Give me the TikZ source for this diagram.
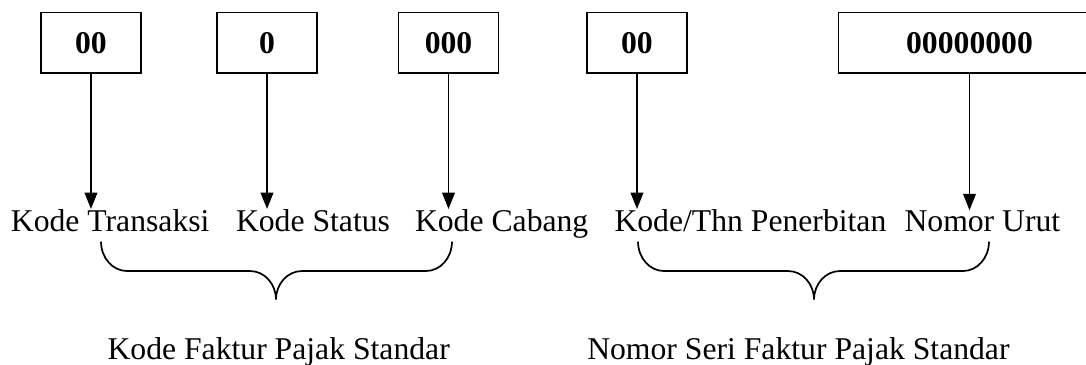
\documentclass[12pt,tikz,border=0pt]{standalone}
\usepackage{fontspec}
\setmainfont{Liberation Serif}
\usetikzlibrary{arrows.meta}

\tikzset{
  codebox/.style={draw, line width=0.6pt, minimum width=1.331cm, minimum height=0.805cm, inner sep=0pt, font=\bfseries},
  partlabel/.style={anchor=base west, inner sep=0pt},
  pointer/.style={-{Triangle[length=6.2pt,width=4.8pt]}, line width=0.6pt},
  bracket/.style={line width=0.65pt},
}

\begin{document}
\begin{tikzpicture}
  \clip (0,0) rectangle (14.458,4.846);
  % digit blocks of the invoice number
  \node[codebox] (trans) at (1.211,4.277) {00};
  \node[codebox] (status) at (3.555,4.277) {0};
  \node[codebox] (cabang) at (5.971,4.277) {000};
  \node[codebox] (tahun) at (8.480,4.277) {00};
  \node[codebox, minimum width=3.487cm] (urut) at (12.907,4.277) {00000000};
  % what each block stands for
  \node[partlabel] (transname) at (0.138,1.764) {Kode Transaksi};
  \node[partlabel] (statusname) at (3.135,1.764) {Kode Status};
  \node[partlabel] (cabangname) at (5.518,1.764) {Kode Cabang};
  \node[partlabel] (tahunname) at (8.174,1.764) {Kode/Thn Penerbitan};
  \node[partlabel] (urutname) at (12.035,1.764) {Nomor Urut};
  % pointers down to the names
  \draw[pointer] (trans.south) -- (trans.south |- transname.north);
  \draw[pointer] (status.south) -- (status.south |- statusname.north);
  \draw[pointer] (cabang.south) -- (cabang.south |- cabangname.north);
  \draw[pointer] (tahun.south) -- (tahun.south |- tahunname.north);
  \draw[pointer] (urut.south) -- (urut.south |- urutname.north);
  % braces grouping the parts
  \draw[bracket] (1.345,1.628) arc[start angle=180, end angle=270, x radius=0.346, y radius=0.39]
    -- (3.328,1.238) arc[start angle=90, end angle=0, x radius=0.346, y radius=0.379]
    arc[start angle=180, end angle=90, x radius=0.346, y radius=0.379]
    -- (5.671,1.238) arc[start angle=270, end angle=360, x radius=0.346, y radius=0.39];
  \draw[bracket] (8.494,1.628) arc[start angle=180, end angle=270, x radius=0.346, y radius=0.39]
    -- (10.491,1.238) arc[start angle=90, end angle=0, x radius=0.346, y radius=0.379]
    arc[start angle=180, end angle=90, x radius=0.346, y radius=0.379]
    -- (12.820,1.238) arc[start angle=270, end angle=360, x radius=0.346, y radius=0.39];
  % group names
  \node[partlabel] (kodefp) at (1.425,0.063) {Kode Faktur Pajak Standar};
  \node[partlabel] (serifp) at (7.811,0.063) {Nomor Seri Faktur Pajak Standar};
\end{tikzpicture}
\end{document}
